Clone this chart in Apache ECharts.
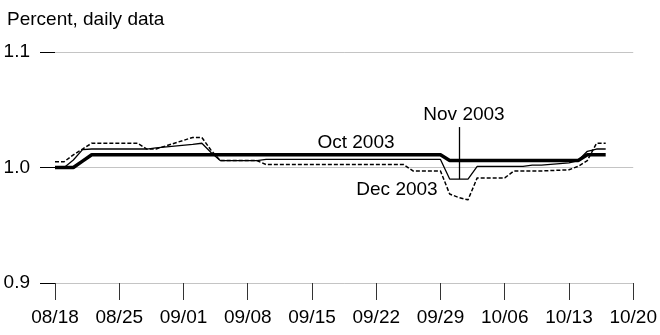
<!DOCTYPE html>
<html>
<head>
<meta charset="utf-8">
<script src="https://cdn.jsdelivr.net/npm/echarts@6/dist/echarts.min.js"></script>
<style>
  html, body { margin: 0; padding: 0; background: #fff; }
  #chart { width: 660px; height: 335px; }
</style>
</head>
<body>
<div id="chart"></div>
<script>
// Trading days (2003), mm/dd
const dates = ['08/18','08/19','08/20','08/21','08/22','08/25','08/26','08/27','08/28','08/29',
  '09/02','09/03','09/04','09/05','09/08','09/09','09/10','09/11','09/12',
  '09/15','09/16','09/17','09/18','09/19','09/22','09/23','09/24','09/25','09/26',
  '09/29','09/30','10/01','10/02','10/03','10/06','10/07','10/08','10/09','10/10',
  '10/13','10/14','10/15','10/16','10/17'];

// Oct 2003 contract (heavy line)
const oct2003 = [1.000,1.000,1.000,1.0055,1.011,1.011,1.011,1.011,1.011,1.011,
  1.011,1.011,1.011,1.011,1.011,1.011,1.011,1.011,1.011,
  1.011,1.011,1.011,1.011,1.011,1.011,1.011,1.011,1.011,1.011,
  1.011,1.006,1.006,1.006,1.006,1.006,1.006,1.006,1.006,1.006,
  1.006,1.006,1.011,1.011,1.011];

// Nov 2003 contract (thin line)
const nov2003 = [1.000,1.000,1.0065,1.0155,1.016,1.016,1.016,1.016,1.016,1.017,
  1.020,1.021,1.013,1.006,1.006,1.006,1.007,1.007,1.007,
  1.007,1.007,1.007,1.007,1.007,1.007,1.007,1.007,1.007,1.007,
  1.007,0.990,0.990,0.990,1.001,1.001,1.001,1.001,1.002,1.002,
  1.004,1.006,1.014,1.016,1.016];

// Dec 2003 contract (dashed line)
const dec2003 = [1.005,1.005,1.011,1.016,1.021,1.021,1.021,1.021,1.016,1.016,
  1.026,1.026,1.015,1.006,1.006,1.006,1.0025,1.0025,1.0025,
  1.0025,1.0025,1.0025,1.0025,1.0025,1.0025,1.0025,1.0025,1.0025,0.997,
  0.997,0.977,0.974,0.972,0.991,0.991,0.997,0.997,0.997,0.997,
  0.998,1.001,1.006,1.021,1.021];

const tickLabels = ['08/18','08/25','09/01','09/08','09/15','09/22','09/29','10/06','10/13','10/20'];
const yTicks = [0.9, 1.0, 1.1];

// days elapsed since 08/18
function dayIndex(s) {
  const [m, d] = s.split('/').map(Number);
  if (m === 8) return d - 18;
  if (m === 9) return 13 + d;
  return 43 + d;
}
const pairs = vals => dates.map((d, i) => [dayIndex(d), vals[i]]);

const FONT = '"Liberation Sans", Arial, Helvetica, sans-serif';
const chart = echarts.init(document.getElementById('chart'), null, { renderer: 'canvas' });

const novLeaderDay = dayIndex('10/01');
const novLeaderVal = nov2003[dates.indexOf('10/01')];

chart.setOption({
  animation: false,
  grid: { left: 55, right: 20, top: 52, bottom: 52 },
  xAxis: {
    type: 'value', min: 0, max: 63, interval: 7,
    axisLine: { show: false },
    axisTick: { show: true, inside: false, length: 17, lineStyle: { color: '#333', width: 1 } },
    splitLine: { show: false },
    axisLabel: {
      margin: 25, color: '#000', fontFamily: FONT, fontSize: 19,
      formatter: v => tickLabels[Math.round(v / 7)] || ''
    }
  },
  yAxis: {
    type: 'value', min: yTicks[0], max: yTicks[yTicks.length - 1], interval: 0.1,
    axisLine: { show: false },
    axisTick: { show: true, inside: false, length: 15, lineStyle: { color: '#000', width: 1 } },
    splitLine: { show: true, lineStyle: { color: '#c4c4c4', width: 1 } },
    axisLabel: {
      margin: 25, color: '#000', fontFamily: FONT, fontSize: 19,
      formatter: v => v.toFixed(1)
    }
  },
  series: [
    {
      name: 'Dec 2003', type: 'line', data: pairs(dec2003), symbol: 'none',
      lineStyle: { color: '#000', width: 1.5, type: [4, 2] }, z: 3
    },
    {
      name: 'Nov 2003', type: 'line', data: pairs(nov2003), symbol: 'none',
      lineStyle: { color: '#000', width: 1.3 }, z: 4,
      markLine: {
        silent: true, symbol: ['none', 'none'], label: { show: false },
        lineStyle: { color: '#000', width: 1.3, type: 'solid' },
        data: [[{ coord: [novLeaderDay, 1.035] }, { coord: [novLeaderDay, novLeaderVal] }]]
      }
    },
    {
      name: 'Oct 2003', type: 'line', data: pairs(oct2003), symbol: 'none',
      lineStyle: { color: '#000', width: 3.5 }, z: 5
    }
  ],
  graphic: [
    { type: 'text', left: 7, top: 10, style: { text: 'Percent, daily data', font: '19px ' + FONT, fill: '#000' } },
    { type: 'text', x: 356, y: 143, style: { text: 'Oct 2003', font: '19px ' + FONT, fill: '#000', align: 'center', verticalAlign: 'middle' } },
    { type: 'text', x: 464, y: 115, style: { text: 'Nov 2003', font: '19px ' + FONT, fill: '#000', align: 'center', verticalAlign: 'middle' } },
    { type: 'text', x: 397, y: 190, style: { text: 'Dec 2003', font: '19px ' + FONT, fill: '#000', align: 'center', verticalAlign: 'middle' } }
  ]
});
</script>
</body>
</html>
